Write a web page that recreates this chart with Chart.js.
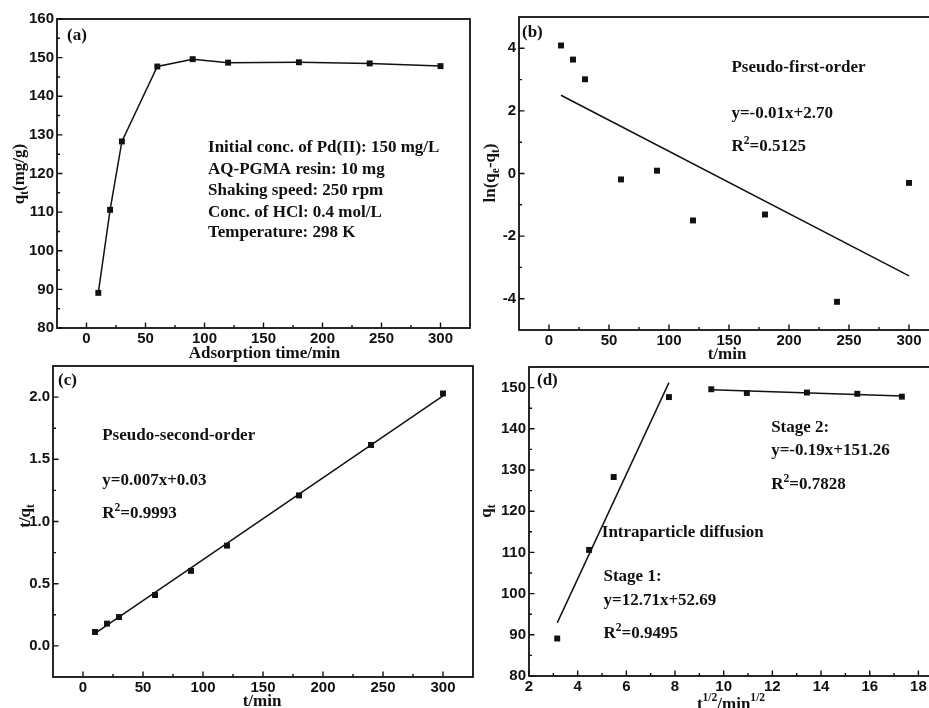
<!DOCTYPE html>
<html><head><meta charset="utf-8">
<script src="https://cdn.jsdelivr.net/npm/chart.js@4.4.0/dist/chart.umd.min.js"></script>
<style>
html,body{margin:0;padding:0;background:#fff;overflow:hidden;width:929px;height:708px;}
.p{position:absolute;}
</style></head><body>
<div class="p" style="left:0;top:0;width:478px;height:364px"><canvas id="ca"></canvas></div>
<div class="p" style="left:478px;top:0;width:470px;height:364px"><canvas id="cb"></canvas></div>
<div class="p" style="left:0;top:354px;width:478px;height:354px"><canvas id="cc"></canvas></div>
<div class="p" style="left:478px;top:354px;width:470px;height:354px"><canvas id="cd"></canvas></div>
<script>
// ---------------- data ----------------
const timeMin = [10, 20, 30, 60, 90, 120, 180, 240, 300];
const qt = [89.1, 110.6, 128.3, 147.7, 149.6, 148.7, 148.8, 148.5, 147.8];
const lnQeQt = [4.09, 3.64, 3.01, -0.19, 0.09, -1.50, -1.31, -4.10, -0.30];
const tOverQt = [0.112, 0.179, 0.232, 0.409, 0.603, 0.806, 1.21, 1.615, 2.029];
const sqrtT = [3.16, 4.47, 5.48, 7.75, 9.49, 10.95, 13.42, 15.49, 17.32];

const fitFirstX = [10, 300], fitFirstY = [2.50, -3.27];
const fitSecondX = [10, 300], fitSecondY = [0.10, 2.01];
const stage1X = [3.16, 7.75], stage1Y = [92.9, 151.2];
const stage2X = [9.49, 17.32], stage2Y = [149.46, 147.97];

// tick values
const timeTicks = [0, 50, 100, 150, 200, 250, 300];
const timeMinor = [25, 75, 125, 175, 225, 275];
const qtTicksA = [80, 90, 100, 110, 120, 130, 140, 150, 160];
const qtMinorA = [85, 95, 105, 115, 125, 135, 145, 155];
const lnTicks = [-4, -2, 0, 2, 4];
const lnMinor = [-3, -1, 1, 3];
const tqTicks = [0, 0.5, 1.0, 1.5, 2.0];
const tqMinor = [0.25, 0.75, 1.25, 1.75];
const sqrtTicks = [2, 4, 6, 8, 10, 12, 14, 16, 18];
const sqrtMinor = [3, 5, 7, 9, 11, 13, 15, 17];
const qtTicksD = [80, 90, 100, 110, 120, 130, 140, 150];
const qtMinorD = [85, 95, 105, 115, 125, 135, 145];

// ---------------- helpers ----------------
const INK = '#111';
const SERIF = '"Liberation Serif", "Times New Roman", serif';
const SANS = '"Liberation Sans", Arial, sans-serif';
const zip = (xs, ys) => xs.map((x, i) => ({x: x, y: ys[i]}));

function pointsDs(xs, ys, line) {
  return {data: zip(xs, ys), showLine: !!line, borderColor: INK, borderWidth: 1.5,
    pointStyle: 'rect', pointRadius: 4.2, pointHoverRadius: 4.2,
    pointBackgroundColor: INK, pointBorderColor: INK, pointBorderWidth: 0};
}
function lineDs(xs, ys) {
  return {data: zip(xs, ys), showLine: true, borderColor: INK, borderWidth: 1.5, pointRadius: 0, pointHoverRadius: 0};
}

function drawRich(ctx, segs, x, y, size, align, rot) {
  ctx.save();
  ctx.translate(x, y);
  if (rot) ctx.rotate(rot);
  const parts = segs.map(s => {
    const sz = (s.sub || s.sup) ? size * 0.68 : size;
    ctx.font = 'bold ' + sz + 'px ' + SERIF;
    return {s: s, sz: sz, w: ctx.measureText(s.t).width};
  });
  const total = parts.reduce((a, p) => a + p.w, 0);
  let cx = align === 'center' ? -total / 2 : 0;
  ctx.fillStyle = INK;
  ctx.textBaseline = 'alphabetic';
  ctx.textAlign = 'left';
  parts.forEach(p => {
    const dy = p.s.sub ? size * 0.28 : (p.s.sup ? -size * 0.42 : 0);
    ctx.font = 'bold ' + p.sz + 'px ' + SERIF;
    ctx.fillText(p.s.t, cx, size * 0.33 + dy);
    cx += p.w;
  });
  ctx.restore();
}

function panelPlugin(cfg) {
  return {
    id: 'panel_' + cfg.name,
    afterDraw(chart) {
      const ctx = chart.ctx, ca = chart.chartArea;
      const xs = chart.scales.x, ys = chart.scales.y;
      ctx.save();
      // ticks (inward)
      ctx.strokeStyle = INK; ctx.lineWidth = 1.4;
      ctx.beginPath();
      cfg.xt.forEach(v => { const p = xs.getPixelForValue(v); ctx.moveTo(p, ca.bottom); ctx.lineTo(p, ca.bottom - 5.5); });
      cfg.xm.forEach(v => { const p = xs.getPixelForValue(v); ctx.moveTo(p, ca.bottom); ctx.lineTo(p, ca.bottom - 3); });
      cfg.yt.forEach(v => { const p = ys.getPixelForValue(v); ctx.moveTo(ca.left, p); ctx.lineTo(ca.left + 5.5, p); });
      cfg.ym.forEach(v => { const p = ys.getPixelForValue(v); ctx.moveTo(ca.left, p); ctx.lineTo(ca.left + 3, p); });
      ctx.stroke();
      // frame
      ctx.lineWidth = 1.8;
      ctx.strokeRect(ca.left, ca.top, ca.right - ca.left, ca.bottom - ca.top);
      ctx.restore();
      // panel label
      drawRich(ctx, [{t: cfg.label}], ca.left + cfg.labelOff[0], ca.top + cfg.labelOff[1], 17, 'left');
      // annotations anchored in data coordinates
      cfg.notes.forEach(n => {
        drawRich(ctx, n.segs, xs.getPixelForValue(n.x), ys.getPixelForValue(n.y), 17, 'left');
      });
      // axis titles
      drawRich(ctx, cfg.xTitle, (ca.left + ca.right) / 2 + (cfg.xTitleDx || 0), cfg.xTitleY, 17, 'center');
      drawRich(ctx, cfg.yTitle, cfg.yTitleX, cfg.yTitleY, 17, 'center', -Math.PI / 2);
    }
  };
}

function makeChart(id, o) {
  const tickFont = {family: SANS, size: 15, weight: 'bold'};
  return new Chart(document.getElementById(id), {
    type: 'scatter',
    data: {datasets: o.datasets},
    options: {
      responsive: true, maintainAspectRatio: false, animation: false,
      layout: {padding: o.pad, autoPadding: false},
      plugins: {legend: {display: false}, tooltip: {enabled: false}},
      scales: {
        x: {type: 'linear', min: o.xr[0], max: o.xr[1],
          grid: {display: false, drawTicks: false, tickLength: 0}, border: {display: false},
          afterBuildTicks: s => { s.ticks = o.xt.map(v => ({value: v})); },
          afterFit: s => { s.height = o.xh; },
          ticks: {font: tickFont, color: INK, padding: 2, maxRotation: 0, autoSkip: false,
            callback: v => String(v)}},
        y: {type: 'linear', min: o.yr[0], max: o.yr[1],
          grid: {display: false, drawTicks: false, tickLength: 0}, border: {display: false},
          afterBuildTicks: s => { s.ticks = o.yt.map(v => ({value: v})); },
          afterFit: s => { s.width = o.yw; },
          ticks: {font: tickFont, color: INK, padding: 3, autoSkip: false,
            callback: o.yf || (v => String(v))}}
      }
    },
    plugins: [panelPlugin(o)]
  });
}

const R2 = v => [{t: 'R'}, {t: '2', sup: true}, {t: '=' + v}];

// (a)
makeChart('ca', {
  name: 'a', label: '(a)', labelOff: [10, 15],
  datasets: [pointsDs(timeMin, qt, true)],
  pad: {left: 0, top: 19, right: 8, bottom: 0}, yw: 57, xh: 36,
  xr: [-25, 325], yr: [80, 160], xt: timeTicks, xm: timeMinor, yt: qtTicksA, ym: qtMinorA,
  notes: [
    {x: 103, y: 127.0, segs: [{t: 'Initial conc. of Pd(II): 150 mg/L'}]},
    {x: 103, y: 121.4, segs: [{t: 'AQ-PGMA resin: 10 mg'}]},
    {x: 103, y: 115.8, segs: [{t: 'Shaking speed: 250 rpm'}]},
    {x: 103, y: 110.1, segs: [{t: 'Conc. of HCl: 0.4 mol/L'}]},
    {x: 103, y: 105.0, segs: [{t: 'Temperature: 298 K'}]}
  ],
  xTitle: [{t: 'Adsorption time/min'}], xTitleY: 352, xTitleDx: 1,
  yTitle: [{t: 'q'}, {t: 't', sub: true}, {t: '(mg/g)'}], yTitleX: 18, yTitleY: 174
});

// (b)
makeChart('cb', {
  name: 'b', label: '(b)', labelOff: [3, 14],
  datasets: [pointsDs(timeMin, lnQeQt, false), lineDs(fitFirstX, fitFirstY)],
  pad: {left: 0, top: 17, right: 9, bottom: 0}, yw: 41, xh: 34,
  xr: [-25, 325], yr: [-5, 5], xt: timeTicks, xm: timeMinor, yt: lnTicks, ym: lnMinor,
  notes: [
    {x: 152, y: 3.43, segs: [{t: 'Pseudo-first-order'}]},
    {x: 152, y: 1.94, segs: [{t: 'y=-0.01x+2.70'}]},
    {x: 152, y: 0.90, segs: R2('0.5125')}
  ],
  xTitle: [{t: 't/min'}], xTitleY: 353, xTitleDx: -2,
  yTitle: [{t: 'ln(q'}, {t: 'e', sub: true}, {t: '-q'}, {t: 't', sub: true}, {t: ')'}], yTitleX: 11, yTitleY: 173
});

// (c)
makeChart('cc', {
  name: 'c', label: '(c)', labelOff: [5, 13.5],
  datasets: [pointsDs(timeMin, tOverQt, false), lineDs(fitSecondX, fitSecondY)],
  pad: {left: 0, top: 11, right: 5, bottom: 0}, yw: 53, xh: 31,
  xr: [-25, 325], yr: [-0.25, 2.25], xt: timeTicks, xm: timeMinor, yt: tqTicks, ym: tqMinor,
  yf: v => Number(v).toFixed(1),
  notes: [
    {x: 16, y: 1.70, segs: [{t: 'Pseudo-second-order'}]},
    {x: 16, y: 1.34, segs: [{t: 'y=0.007x+0.03'}]},
    {x: 16, y: 1.07, segs: R2('0.9993')}
  ],
  xTitle: [{t: 't/min'}], xTitleY: 346, xTitleDx: -1,
  yTitle: [{t: 't/q'}, {t: 't', sub: true}], yTitleX: 24, yTitleY: 162
});

// (d)
makeChart('cd', {
  name: 'd', label: '(d)', labelOff: [8, 12.5],
  datasets: [pointsDs(sqrtT, qt, false), lineDs(stage1X, stage1Y), lineDs(stage2X, stage2Y)],
  pad: {left: 0, top: 13, right: 15, bottom: 0}, yw: 51, xh: 32,
  xr: [2, 18.6], yr: [80, 155], xt: sqrtTicks, xm: sqrtMinor, yt: qtTicksD, ym: qtMinorD,
  notes: [
    {x: 11.95, y: 140.7, segs: [{t: 'Stage 2:'}]},
    {x: 11.95, y: 135.0, segs: [{t: 'y=-0.19x+151.26'}]},
    {x: 11.95, y: 126.8, segs: R2('0.7828')},
    {x: 4.99, y: 115.0, segs: [{t: 'Intraparticle diffusion'}]},
    {x: 5.06, y: 104.4, segs: [{t: 'Stage 1:'}]},
    {x: 5.06, y: 98.7, segs: [{t: 'y=12.71x+52.69'}]},
    {x: 5.06, y: 90.6, segs: R2('0.9495')}
  ],
  xTitle: [{t: 't'}, {t: '1/2', sup: true}, {t: '/min'}, {t: '1/2', sup: true}], xTitleY: 349, xTitleDx: 0,
  yTitle: [{t: 'q'}, {t: 't', sub: true}], yTitleX: 7, yTitleY: 157
});
</script>
</body></html>
